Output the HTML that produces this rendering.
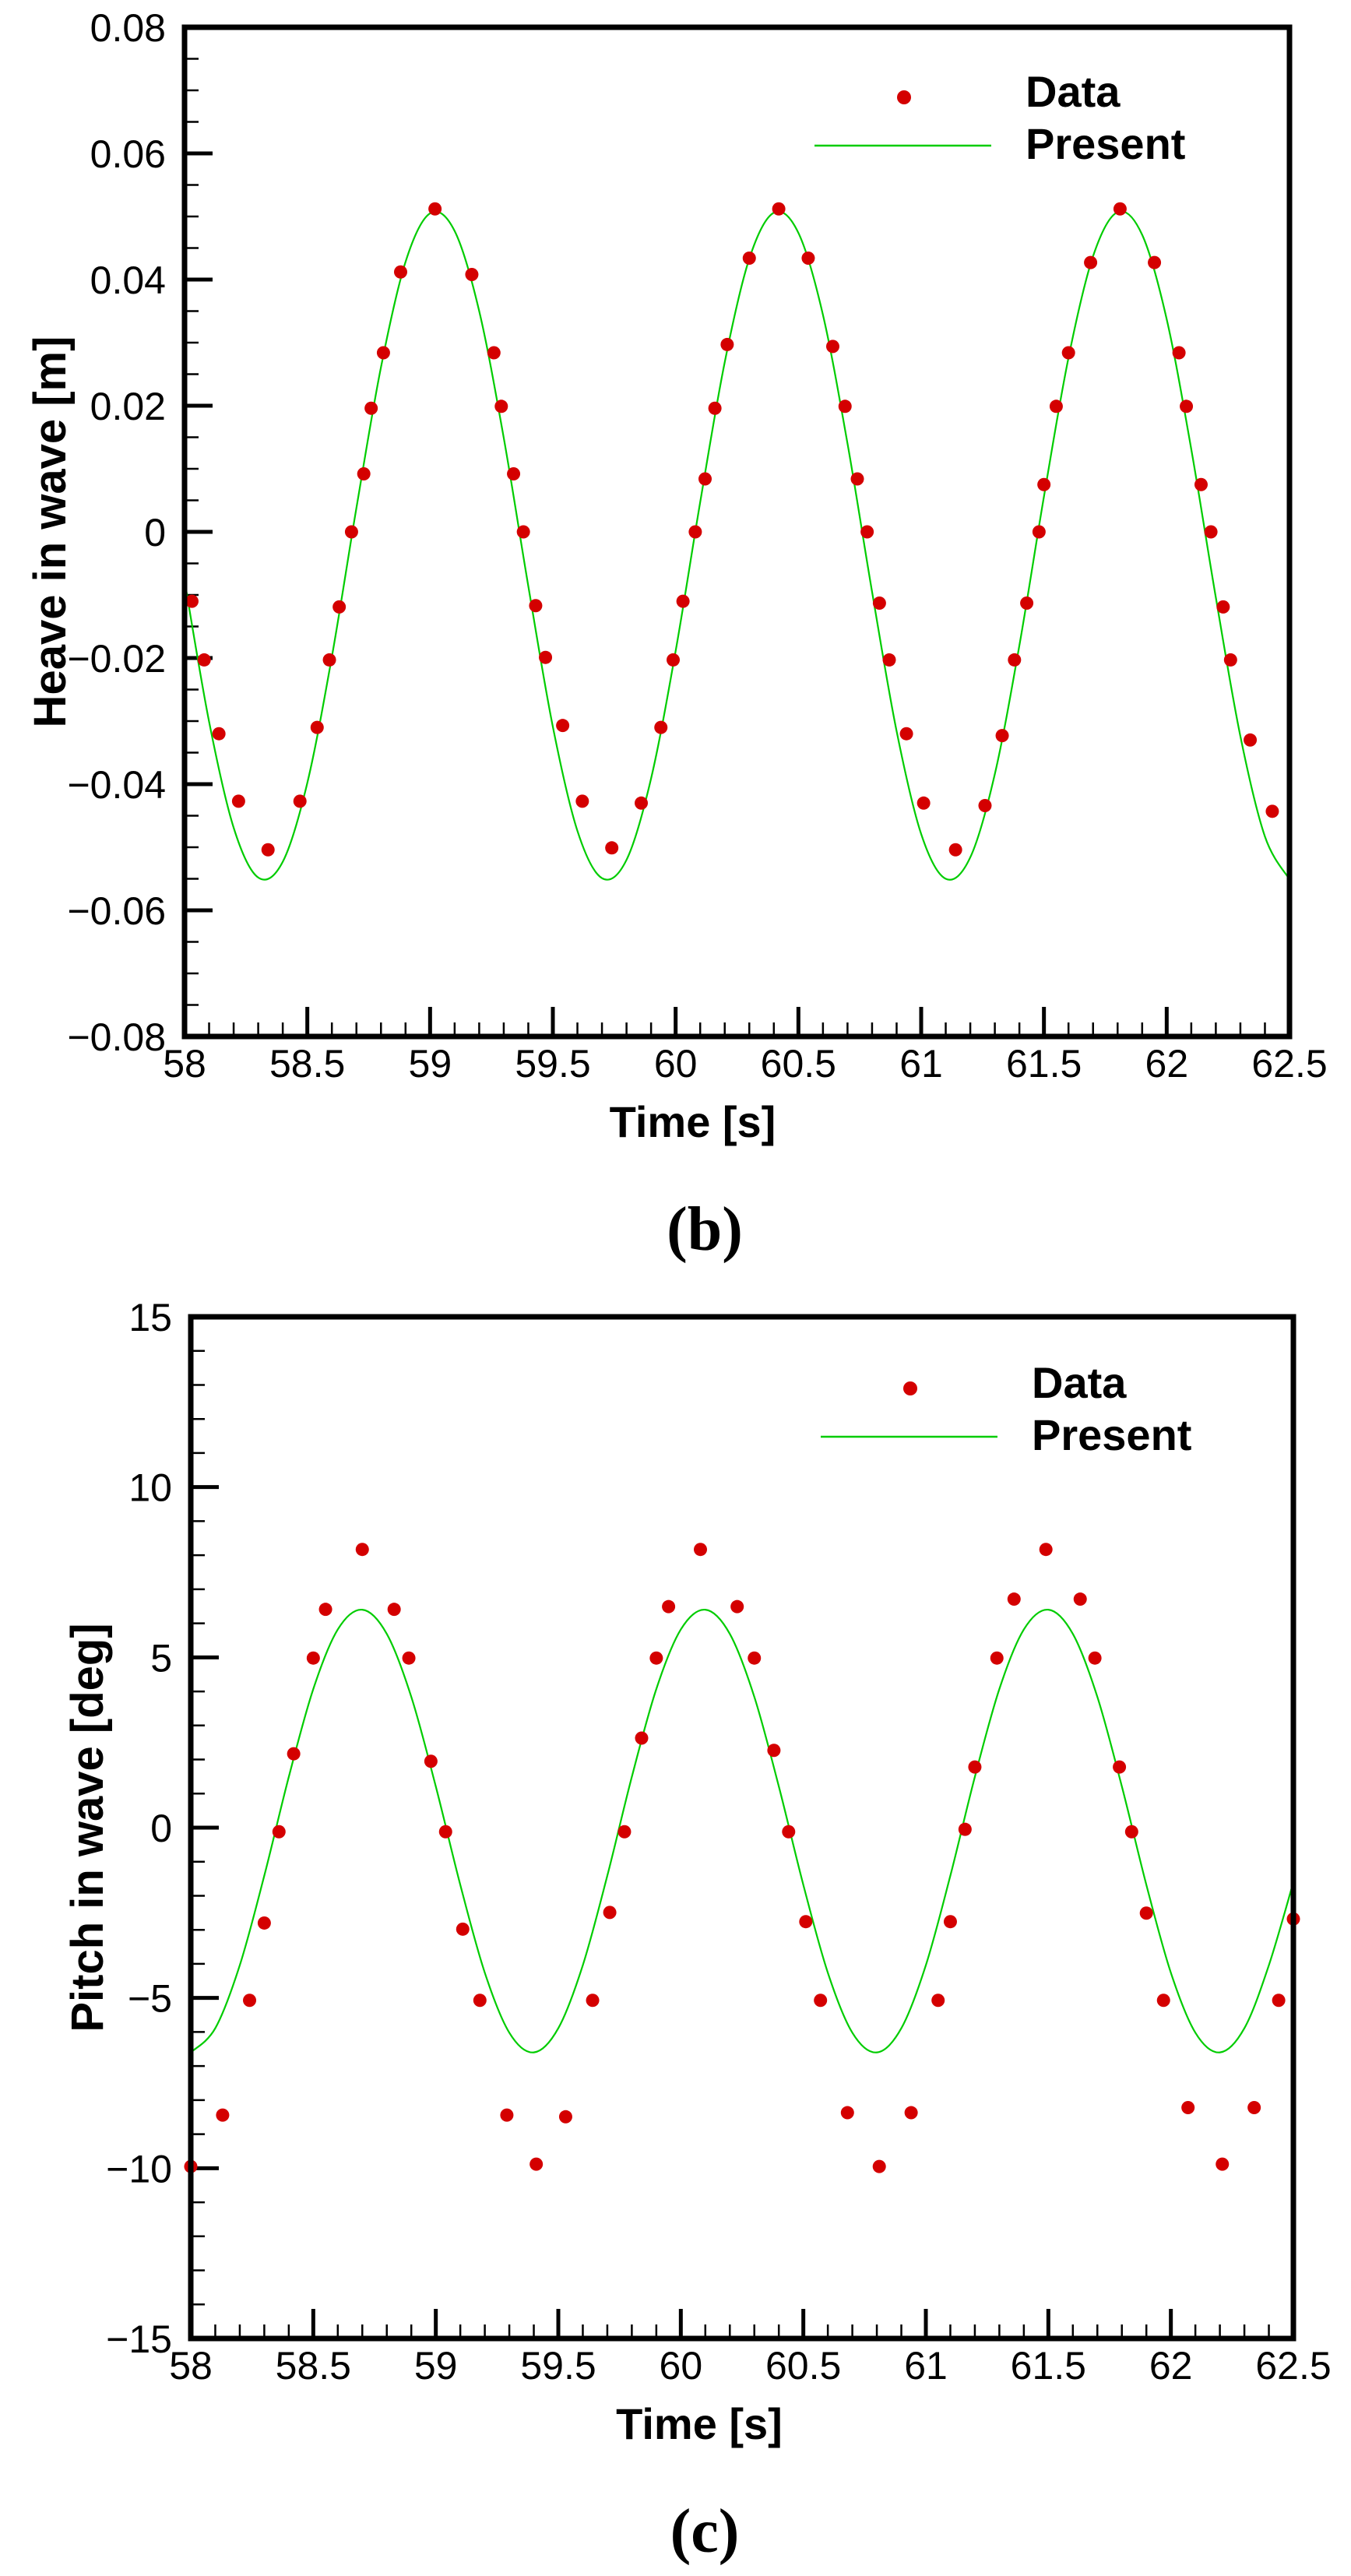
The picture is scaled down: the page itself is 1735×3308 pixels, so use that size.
<!DOCTYPE html>
<html><head><meta charset="utf-8"><style>
html,body{margin:0;padding:0;background:#fff;}
svg{display:block;}
text{font-family:"Liberation Sans",Arial,sans-serif;}
</style></head><body>
<svg id="fig" width="1735" height="3308" viewBox="0 0 1735 3308" xmlns="http://www.w3.org/2000/svg">
<rect width="1735" height="3308" fill="#fff"/>
</svg>
<script>
// ---------- Heave data (panel b) ----------
const heaveTimes = [58.03,58.08,58.14,58.22,58.34,58.47,58.54,58.59,58.63,58.68,58.73,58.76,58.81,58.88,59.02,59.17,59.26,59.29,59.34,59.38,59.43,59.47,59.54,59.62,59.74,59.86,59.94,59.99,60.03,60.08,60.12,60.16,60.21,60.30,60.42,60.54,60.64,60.69,60.74,60.78,60.83,60.87,60.94,61.01,61.14,61.26,61.33,61.38,61.43,61.48,61.50,61.55,61.60,61.69,61.81,61.95,62.05,62.08,62.14,62.18,62.23,62.26,62.34,62.43];
const heaveValues = [-0.011,-0.0203,-0.032,-0.0427,-0.0504,-0.0427,-0.031,-0.0203,-0.0119,0,0.0092,0.0196,0.0284,0.0412,0.0512,0.0408,0.0284,0.0199,0.0092,0,-0.0117,-0.0199,-0.0307,-0.0427,-0.0501,-0.043,-0.031,-0.0203,-0.011,0,0.0084,0.0196,0.0297,0.0434,0.0512,0.0434,0.0294,0.0199,0.0084,0,-0.0113,-0.0203,-0.032,-0.043,-0.0504,-0.0434,-0.0323,-0.0203,-0.0113,0,0.0075,0.0199,0.0284,0.0427,0.0512,0.0427,0.0284,0.0199,0.0075,0,-0.0119,-0.0203,-0.033,-0.0443];
const heaveLineTimes = [58.0,58.1,58.2,58.3,58.4,58.5,58.6,58.7,58.8,58.9,59.0,59.1,59.2,59.3,59.4,59.5,59.6,59.7,59.8,59.9,60.0,60.1,60.2,60.3,60.4,60.5,60.6,60.7,60.8,60.9,61.0,61.1,61.2,61.3,61.4,61.5,61.6,61.7,61.8,61.9,62.0,62.1,62.2,62.3,62.4,62.5];
const heaveLineValues = [-0.0077,-0.0301,-0.0469,-0.0548,-0.0523,-0.0398,-0.0198,0.0038,0.0261,0.0428,0.0505,0.0477,0.0350,0.0149,-0.0086,-0.0309,-0.0474,-0.0549,-0.0520,-0.0391,-0.0189,0.0047,0.0269,0.0433,0.0506,0.0474,0.0344,0.0140,-0.0095,-0.0316,-0.0479,-0.0550,-0.0516,-0.0384,-0.0180,0.0056,0.0276,0.0437,0.0507,0.0471,0.0337,0.0131,-0.0104,-0.0324,-0.0483,-0.0551];
const heaveYTicks = [0.08,0.06,0.04,0.02,0,-0.02,-0.04,-0.06,-0.08];
const heaveYLabels = ["0.08","0.06","0.04","0.02","0","\u22120.02","\u22120.04","\u22120.06","\u22120.08"];

// ---------- Pitch data (panel c) ----------
const pitchTimes = [58.00,58.13,58.24,58.30,58.36,58.42,58.50,58.55,58.70,58.83,58.89,58.98,59.04,59.11,59.18,59.29,59.41,59.53,59.64,59.71,59.77,59.84,59.90,59.95,60.08,60.23,60.30,60.38,60.44,60.51,60.57,60.68,60.81,60.94,61.05,61.10,61.16,61.20,61.29,61.36,61.49,61.63,61.69,61.79,61.84,61.90,61.97,62.07,62.21,62.34,62.44,62.50];
const pitchValues = [-9.95,-8.44,-5.07,-2.8,-0.12,2.17,4.98,6.41,8.17,6.41,4.98,1.95,-0.12,-2.98,-5.07,-8.44,-9.88,-8.49,-5.07,-2.49,-0.12,2.63,4.98,6.49,8.17,6.49,4.98,2.27,-0.12,-2.76,-5.07,-8.37,-9.95,-8.37,-5.07,-2.76,-0.05,1.78,4.98,6.71,8.17,6.71,4.98,1.78,-0.12,-2.51,-5.07,-8.22,-9.88,-8.22,-5.07,-2.68];
const pitchLineTimes = heaveLineTimes;
const pitchLineValues = [-6.60,-5.89,-4.04,-1.41,1.49,4.07,5.82,6.40,5.69,3.84,1.21,-1.68,-4.26,-6.02,-6.60,-5.89,-4.04,-1.41,1.49,4.07,5.82,6.40,5.69,3.84,1.21,-1.68,-4.26,-6.02,-6.60,-5.89,-4.04,-1.41,1.49,4.07,5.82,6.40,5.69,3.84,1.21,-1.68,-4.26,-6.02,-6.60,-5.89,-4.04,-1.60];
const pitchYTicks = [15,10,5,0,-5,-10,-15];
const pitchYLabels = ["15","10","5","0","\u22125","\u221210","\u221215"];

const xTicks = [58,58.5,59,59.5,60,60.5,61,61.5,62,62.5];
const xLabels = ["58","58.5","59","59.5","60","60.5","61","61.5","62","62.5"];

const NS = "http://www.w3.org/2000/svg";
const svg = document.getElementById('fig');
function mk(tag, attrs, parent){
  const e = document.createElementNS(NS, tag);
  for (const k in attrs) e.setAttribute(k, attrs[k]);
  (parent||svg).appendChild(e);
  return e;
}

function panel(cfg){
  const g = mk('g', {});
  
  
  const L=cfg.left, R=cfg.right, T=cfg.top, B=cfg.bottom;
  const sx = t => L + (t-58)/(62.5-58)*(R-L);
  const sy = v => T + (cfg.ymax - v)/(cfg.ymax-cfg.ymin)*(B-T);

  for (let i=0;i<=45;i++){
    const t = 58 + i*0.1;
    const major = (i%5===0);
    const tk = mk('line',{x1:sx(t),x2:sx(t),y1:B,y2:B-(major?38:18),stroke:'#000','stroke-width':major?5:2.5},g);
    
    
  }
  const nMinor = Math.round((cfg.ymax-cfg.ymin)/cfg.ymin_step);
  for (let i=0;i<=nMinor;i++){
    const v = cfg.ymin + i*cfg.ymin_step;
    const major = (i%cfg.majorEvery===0);
    const tk = mk('line',{x1:L,x2:L+(major?36:18),y1:sy(v),y2:sy(v),stroke:'#000','stroke-width':major?5:2.5},g);
    
    
  }
  const pts = cfg.lineT.map((t,i)=>[sx(t), sy(cfg.lineV[i])]);
  let d = 'M'+pts[0][0]+','+pts[0][1];
  for (let i=0;i<pts.length-1;i++){
    const p0=pts[Math.max(0,i-1)], p1=pts[i], p2=pts[i+1], p3=pts[Math.min(pts.length-1,i+2)];
    const c1=[p1[0]+(p2[0]-p0[0])/6, p1[1]+(p2[1]-p0[1])/6];
    const c2=[p2[0]-(p3[0]-p1[0])/6, p2[1]-(p3[1]-p1[1])/6];
    d += ' C'+c1[0]+','+c1[1]+' '+c2[0]+','+c2[1]+' '+p2[0]+','+p2[1];
  }
  const ln = mk('path',{d:d,fill:'none',stroke:'#00cc00','stroke-width':2.2},g);
  
  
  cfg.dotT.forEach((t,i)=>{
    const c = mk('circle',{cx:sx(t),cy:sy(cfg.dotV[i]),r:8.5,fill:'#d40000'},g);
    
    
  });
  const fr = mk('rect',{x:L,y:T,width:R-L,height:B-T,fill:'none',stroke:'#000','stroke-width':7},g);
  
  
  xTicks.forEach((t,i)=>{
    const tx = mk('text',{x:sx(t),y:B+52,'font-size':50,'text-anchor':'middle',fill:'#000'},g);
    tx.textContent = xLabels[i];
    
    
  });
  cfg.yTicks.forEach((v,i)=>{
    const tx = mk('text',{x:L-24,y:sy(v)+18,'font-size':50,'text-anchor':'end',fill:'#000'},g);
    tx.textContent = cfg.yLabels[i];
    
    
  });
  const xt = mk('text',{x:(L+R)/2+(cfg.xtOff||0),y:B+129,'font-size':56,'font-weight':'bold','text-anchor':'middle',fill:'#000'},g);
  xt.textContent = 'Time [s]';
  
  
  const yt = mk('text',{x:0,y:0,'font-size':58,'font-weight':'bold','text-anchor':'middle',fill:'#000',transform:'translate('+cfg.ytX+','+cfg.ytY+') rotate(-90)'},g);
  yt.textContent = cfg.ytitle;
  
  
  const lg = mk('g',{},g);
  
  
  const ld = mk('circle',{cx:cfg.legX+115,cy:cfg.legY,r:9,fill:'#d40000'},lg);
  
  
  const ll = mk('line',{x1:cfg.legX,x2:cfg.legX+227,y1:cfg.legY+62,y2:cfg.legY+62,stroke:'#00cc00','stroke-width':2.5},lg);
  
  
  const lt1 = mk('text',{x:cfg.legX+271,y:cfg.legY+12,'font-size':56,'font-weight':'bold',fill:'#000'},lg);
  lt1.textContent = 'Data';
  
  
  const lt2 = mk('text',{x:cfg.legX+271,y:cfg.legY+79,'font-size':56,'font-weight':'bold',fill:'#000'},lg);
  lt2.textContent = 'Present';
  
  
  const cap = mk('text',{x:905,y:B+274,'font-size':80,'font-weight':'bold','text-anchor':'middle',fill:'#000',style:'font-family:"Liberation Serif",serif'},g);
  cap.textContent = cfg.caption;
  
  
}

panel({name:'heave-chart',left:237,right:1656,top:35,bottom:1331,ymin:-0.08,ymax:0.08,ymin_step:0.005,majorEvery:4,
  lineT:heaveLineTimes,lineV:heaveLineValues,dotT:heaveTimes,dotV:heaveValues,yTicks:heaveYTicks,yLabels:heaveYLabels,
  ytitle:'Heave in wave [m]',ytX:84,ytY:683,legX:1046,legY:125,caption:'(b)',xtOff:-57});
panel({name:'pitch-chart',left:245,right:1661,top:1691,bottom:3003,ymin:-15,ymax:15,ymin_step:1,majorEvery:5,
  lineT:pitchLineTimes,lineV:pitchLineValues,dotT:pitchTimes,dotV:pitchValues,yTicks:pitchYTicks,yLabels:pitchYLabels,
  ytitle:'Pitch in wave [deg]',ytX:132,ytY:2347,legX:1054,legY:1783,caption:'(c)',xtOff:-55});
</script>
</body></html>
